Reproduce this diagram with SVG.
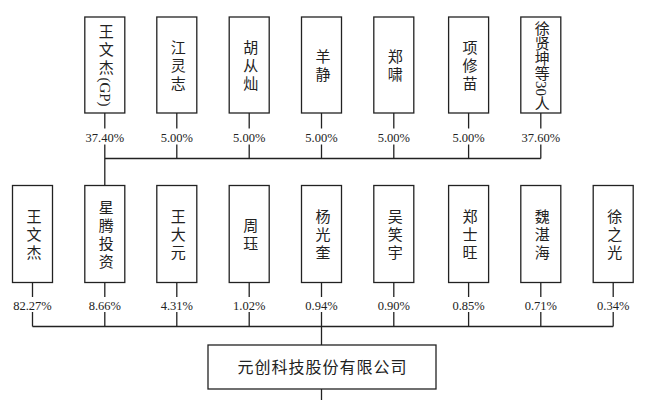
<svg xmlns="http://www.w3.org/2000/svg" width="660" height="400" viewBox="0 0 660 400">
<style>
.box{fill:#fff;stroke:#222;stroke-width:1.3}
.ln{stroke:#222;stroke-width:1.3;fill:none}
.v{font-family:"Liberation Serif","Noto Sans CJK SC",serif;font-size:15px;fill:#222;writing-mode:vertical-rl;text-anchor:middle;letter-spacing:3px}
.p{font-family:"Liberation Serif","Noto Sans CJK SC",serif;font-size:12.5px;fill:#222;text-anchor:middle}
.c{font-family:"Liberation Serif","Noto Sans CJK SC",serif;font-size:16px;fill:#222;text-anchor:middle;letter-spacing:1px}
</style>
<rect width="660" height="400" fill="#fff"/>
<g id="connectors">
<path class="ln" d="M104.8 113V128.5M104.8 144.5V185.5M176.8 113V128.5M176.8 144.5V158.5M249.2 113V128.5M249.2 144.5V158.5M321.5 113V128.5M321.5 144.5V158.5M393.8 113V128.5M393.8 144.5V158.5M468.6 113V128.5M468.6 144.5V158.5M540.8 113V128.5M540.8 144.5V158.5M104.8 158.5H540.8"/>
<path class="ln" d="M32.5 282.5V297M32.5 312V326.5M104.8 282.5V297M104.8 312V326.5M176.8 282.5V297M176.8 312V326.5M249.2 282.5V297M249.2 312V326.5M321.5 282.5V297M321.5 312V345M393.8 282.5V297M393.8 312V326.5M468.6 282.5V297M468.6 312V326.5M540.8 282.5V297M540.8 312V326.5M613.2 282.5V297M613.2 312V326.5M32.5 326.5H613.2M321.5 389V400"/>
</g>
<g id="t1"><rect class="box" x="84.8" y="17" width="40" height="96"/><text class="v" x="104.8" y="65"><tspan>王文杰</tspan><tspan style="letter-spacing:0">(GP)</tspan></text><text class="p" x="104.8" y="141.5">37.40%</text></g>
<g id="t2"><rect class="box" x="156.8" y="17" width="40" height="96"/><text class="v" x="176.8" y="66.5">江灵志</text><text class="p" x="176.8" y="141.5">5.00%</text></g>
<g id="t3"><rect class="box" x="229.2" y="17" width="40" height="96"/><text class="v" x="249.2" y="66.5">胡从灿</text><text class="p" x="249.2" y="141.5">5.00%</text></g>
<g id="t4"><rect class="box" x="301.5" y="17" width="40" height="96"/><text class="v" x="321.5" y="66.5">羊静</text><text class="p" x="321.5" y="141.5">5.00%</text></g>
<g id="t5"><rect class="box" x="373.8" y="17" width="40" height="96"/><text class="v" x="393.8" y="66.5">郑啸</text><text class="p" x="393.8" y="141.5">5.00%</text></g>
<g id="t6"><rect class="box" x="448.6" y="17" width="40" height="96"/><text class="v" x="468.6" y="66.5">项修苗</text><text class="p" x="468.6" y="141.5">5.00%</text></g>
<g id="t7"><rect class="box" x="520.8" y="17" width="40" height="96"/><text class="v" x="540.8" y="66" style="letter-spacing:0">徐贤坤等30人</text><text class="p" x="540.8" y="141.5">37.60%</text></g>
<g id="b1"><rect class="box" x="12.5" y="185.5" width="40" height="97"/><text class="v" x="32.5" y="235.5">王文杰</text><text class="p" x="32.5" y="309.5">82.27%</text></g>
<g id="b2"><rect class="box" x="84.8" y="185.5" width="40" height="97"/><text class="v" x="104.8" y="235.5">星腾投资</text><text class="p" x="104.8" y="309.5">8.66%</text></g>
<g id="b3"><rect class="box" x="156.8" y="185.5" width="40" height="97"/><text class="v" x="176.8" y="235.5">王大元</text><text class="p" x="176.8" y="309.5">4.31%</text></g>
<g id="b4"><rect class="box" x="229.2" y="185.5" width="40" height="97"/><text class="v" x="249.2" y="235.5">周珏</text><text class="p" x="249.2" y="309.5">1.02%</text></g>
<g id="b5"><rect class="box" x="301.5" y="185.5" width="40" height="97"/><text class="v" x="321.5" y="235.5">杨光奎</text><text class="p" x="321.5" y="309.5">0.94%</text></g>
<g id="b6"><rect class="box" x="373.8" y="185.5" width="40" height="97"/><text class="v" x="393.8" y="235.5">吴笑宇</text><text class="p" x="393.8" y="309.5">0.90%</text></g>
<g id="b7"><rect class="box" x="448.6" y="185.5" width="40" height="97"/><text class="v" x="468.6" y="235.5">郑士旺</text><text class="p" x="468.6" y="309.5">0.85%</text></g>
<g id="b8"><rect class="box" x="520.8" y="185.5" width="40" height="97"/><text class="v" x="540.8" y="235.5">魏湛海</text><text class="p" x="540.8" y="309.5">0.71%</text></g>
<g id="b9"><rect class="box" x="593.2" y="185.5" width="40" height="97"/><text class="v" x="613.2" y="235.5">徐之光</text><text class="p" x="613.2" y="309.5">0.34%</text></g>
<g id="company"><rect class="box" x="208" y="345" width="228" height="44"/><text class="c" x="322.5" y="372.5">元创科技股份有限公司</text></g>
</svg>
